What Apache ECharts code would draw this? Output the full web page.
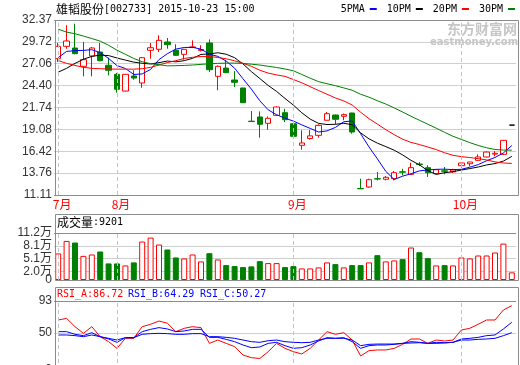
<!DOCTYPE html>
<html><head><meta charset="utf-8">
<script src="https://cdn.jsdelivr.net/npm/echarts@6.0.0/dist/echarts.min.js"></script>
<style>html,body{margin:0;padding:0;background:#fff}#c{width:520px;height:365px}</style>
</head><body><div id="c"></div>
<script>
const dates = ['07-23','07-24','07-27','07-28','07-29','07-30','07-31',
 '08-03','08-04','08-05','08-06','08-07','08-10','08-11','08-12','08-13','08-14','08-17','08-18','08-19','08-20','08-21','08-24','08-25','08-26','08-27','08-28','08-31',
 '09-01','09-02','09-07','09-08','09-09','09-10','09-11','09-14','09-15','09-16','09-17','09-18','09-21','09-22','09-23','09-24','09-25','09-28','09-29','09-30',
 '10-08','10-09','10-12','10-13','10-14','10-15','10-23'];
const open = [27.67,29.17,28.97,26.74,28.00,28.48,26.87,25.77,23.74,25.57,
 24.72,28.69,28.81,29.70,28.69,28.20,29.03,28.68,29.58,25.53,
 26.53,25.08,24.11,20.08,20.59,19.82,20.79,21.11,19.77,17.15,
 17.97,18.36,20.19,20.83,20.67,21.07,11.90,12.08,13.09,13.02,
 13.09,13.93,13.62,14.87,14.43,13.70,14.05,13.92,14.67,14.91,
 15.32,15.73,16.08,16.05,19.60];
const close = [29.17,29.82,28.28,27.55,28.97,27.43,26.26,23.95,25.77,25.32,
 27.79,29.00,29.90,29.37,28.08,28.81,29.10,28.78,26.33,26.74,
 25.97,24.80,22.32,20.03,19.70,20.43,21.80,20.26,18.24,17.43,
 18.29,19.57,20.99,20.31,20.87,18.76,11.86,12.97,13.05,13.26,
 13.82,13.88,14.43,14.82,13.82,14.18,13.99,14.15,15.00,15.12,
 15.73,16.33,16.18,17.75,19.60];
const low = [27.27,28.88,28.20,25.53,25.53,27.35,25.65,23.54,23.70,25.12,
 24.14,27.67,28.48,28.88,28.00,27.55,29.00,28.55,26.05,23.83,
 25.95,24.23,22.30,20.00,18.07,19.04,20.70,19.98,18.20,16.61,
 17.85,18.07,20.18,19.70,20.19,18.56,11.86,12.00,12.89,12.89,
 12.89,13.50,13.55,14.63,13.30,13.65,13.62,13.80,14.43,14.59,
 15.24,15.68,15.81,16.00,19.60];
const high = [29.58,31.73,31.92,29.70,29.09,29.60,27.80,25.93,25.80,26.26,
 27.87,29.58,30.51,30.18,29.42,28.85,29.90,29.30,30.02,26.85,
 27.47,26.17,24.15,21.31,21.28,20.65,21.85,21.59,19.80,18.97,
 19.00,19.69,21.19,20.87,21.00,21.10,13.09,13.09,13.90,13.42,
 14.02,14.30,15.03,15.12,14.72,14.22,14.51,14.30,15.02,15.14,
 16.05,16.40,16.45,17.78,19.60];
const ma5 = [27.80,28.55,28.65,28.68,28.76,28.41,27.70,26.83,26.48,25.75,
 25.82,26.37,27.56,28.28,28.83,29.03,29.05,28.83,28.22,27.95,
 27.38,26.52,25.23,23.97,22.56,21.46,20.86,20.44,20.09,19.63,
 19.20,18.76,18.90,19.32,20.01,20.10,18.56,16.95,15.50,13.98,
 12.99,13.40,13.69,14.04,14.15,14.23,14.25,14.19,14.23,14.49,
 14.80,15.27,15.67,16.22,17.12];
const ma10 = [26.03,26.50,27.10,27.60,27.95,28.10,28.05,27.75,27.50,27.25,
 27.11,27.03,27.19,27.38,27.29,27.43,27.71,28.19,28.25,28.39,
 28.21,27.79,27.03,26.10,25.26,24.42,23.69,22.84,22.03,21.10,
 20.33,19.81,19.67,19.70,19.82,19.65,18.66,17.93,17.41,16.99,
 16.55,15.98,15.32,14.77,14.07,13.61,13.82,13.94,14.14,14.32,
 14.51,14.76,14.93,15.23,15.80];
const ma20 = [27.45,27.10,26.85,26.62,26.50,26.45,26.42,26.40,26.40,26.40,
 26.45,26.62,26.90,27.20,27.43,27.70,27.84,27.93,27.93,27.82,
 27.66,27.41,27.11,26.74,26.27,25.92,25.70,25.52,25.14,24.74,
 24.27,23.80,23.35,22.90,22.54,22.04,21.17,20.38,19.72,19.05,
 18.44,17.89,17.50,17.24,16.94,16.63,16.24,15.93,15.77,15.66,
 15.53,15.37,15.13,15.00,14.94];
const ma30 = [31.25,30.90,30.70,30.42,30.12,29.80,29.30,28.70,28.20,27.70,
 27.30,27.06,26.94,26.80,26.82,26.85,26.90,26.98,27.05,27.10,
 27.13,27.13,27.10,27.00,26.90,26.75,26.60,26.42,26.20,25.75,
 25.30,24.88,24.63,24.39,24.12,23.83,23.35,22.99,22.56,22.16,
 21.69,21.19,20.68,20.19,19.71,19.23,18.72,18.24,17.86,17.47,
 17.13,16.85,16.64,16.57,16.56];
const volume = [6.32,9.31,8.93,5.75,6.08,6.79,3.95,3.95,3.47,4.19,
 9.16,10.11,8.45,7.27,5.37,5.14,6.08,4.43,6.39,4.90,
 3.55,3.32,3.08,3.24,4.50,4.03,4.03,3.08,3.32,2.76,
 2.76,3.00,4.19,3.79,3.00,3.55,3.55,4.19,5.92,4.43,
 4.66,4.97,7.74,6.63,5.21,3.47,3.55,3.47,5.37,5.14,
 5.84,5.84,6.55,8.68,1.82];
const rsiA = [67.4,69.6,58.4,49.4,58.4,44.9,38.2,29.2,42.7,42.7,
 58.4,61.6,66.0,63.0,51.7,56.2,58.4,57.1,35.9,40.4,
 35.9,31.5,20.2,16.6,15.5,24.7,35.9,29.2,24.7,21.6,
 29.2,40.4,51.7,48.1,50.3,40.4,18.9,26.1,27.0,27.0,
 29.2,34.6,41.8,41.8,35.9,40.4,39.1,40.4,53.9,56.2,
 61.6,67.4,67.4,80.9,86.72];
const rsiB = [51.7,51.7,48.1,46.3,50.3,44.9,41.8,37.3,43.6,43.6,
 51.7,54.8,57.1,55.3,51.7,52.6,54.8,54.8,44.0,44.0,
 41.3,38.2,33.7,30.1,31.0,35.9,37.3,32.8,29.2,30.1,
 33.7,39.1,43.6,42.7,43.6,38.2,29.2,32.8,33.7,33.7,
 34.6,35.9,38.2,37.3,35.9,37.3,36.8,37.3,41.8,42.7,
 44.0,46.3,47.2,55.3,64.29];
const rsiC = [47.2,47.2,46.3,44.9,47.2,44.9,42.7,40.4,43.6,43.6,
 48.1,49.0,49.4,49.0,48.1,48.1,49.0,49.0,44.9,44.9,
 44.0,42.7,40.4,38.2,37.3,39.5,40.4,38.2,37.3,36.8,
 37.3,40.4,42.7,42.7,42.7,40.4,32.8,34.6,35.0,35.0,
 35.0,35.9,36.4,36.8,35.9,35.9,36.4,37.3,40.4,40.4,
 41.3,41.8,42.7,46.3,50.27];
const priceTicks = [11.11,13.76,16.42,19.08,21.74,24.40,27.06,29.72,32.37];
const volumeTicks = [0,2.0,5.1,8.1,11.2];
const rsiTicks = [0,50,93];
const volumeHeader = 9201;
const stockTitle = '雄韬股份';
const stockCode = '[002733] 2015-10-23 15:00';

const RED = '#ff0000', GREEN = '#008000', BLUE = '#0000ff', BLACK = '#000000';
const FRAME = '#8c8c8c', GRID = '#cfcfcf';
const numFont = 'Liberation Sans, Noto Sans CJK SC, sans-serif';
const monoFont = 'DejaVu Sans Mono, monospace';
const cjkFont = 'Noto Sans CJK SC, sans-serif';

const monthStarts = dates.filter((d, i) => i === 0 || d.slice(0, 2) !== dates[i - 1].slice(0, 2));
const isMonthStart = (i) => i === 0 || dates[i].slice(0, 2) !== dates[i - 1].slice(0, 2);
const monthLine = {
  symbol: 'none', silent: true, animation: false,
  label: { show: false },
  lineStyle: { type: [4, 3], color: '#c4c4c4', width: 1 },
  emphasis: { disabled: true },
  data: monthStarts.map(d => ({ xAxis: d }))
};

const candleData = dates.map((d, i) => [open[i], close[i], low[i], high[i]]);
const volData = volume.map((v, i) => {
  const up = close[i] >= open[i];
  return { value: v, itemStyle: up ? { color: '#ffffff', borderColor: RED, borderWidth: 1 } : { color: GREEN, borderColor: GREEN, borderWidth: 1 } };
});

const gridL = 54, gridR = 4;
const sideLabel = { color: '#333', fontFamily: numFont, fontSize: 12, margin: 2, hideOverlap: false, showMinLabel: true, showMaxLabel: true };
function xAx(idx, showLabel) {
  return {
    type: 'category', gridIndex: idx, data: dates, boundaryGap: true,
    axisLine: { show: false }, axisTick: { show: false }, splitLine: { show: false },
    axisLabel: showLabel ? {
      show: true, interval: (i) => isMonthStart(i), color: RED, fontFamily: cjkFont, fontSize: 12, margin: 3,
      formatter: (v) => '{m|' + parseInt(v.slice(0, 2), 10) + '月}',
      rich: { m: { color: RED, fontFamily: cjkFont, fontSize: 12, padding: [0, 0, 0, 8] } }
    } : { show: false }
  };
}
function lineColors(ticks) { const lo = ticks[0], hi = ticks[ticks.length - 1]; return ticks.map(v => (v === lo || v === hi) ? FRAME : GRID); }
const volMin = volumeTicks[0], volMax = volumeTicks[volumeTicks.length - 1];
const volUpperTicks = volumeTicks.filter(v => v !== volMin);
const volFmt = (v) => v === 0 ? '0' : v.toFixed(1) + '万';

const option = {
  animation: false,
  backgroundColor: '#ffffff',
  grid: [
    { left: gridL, right: gridR, top: 20, height: 175, outerBoundsMode: 'none', containLabel: false },
    { left: gridL, right: gridR, top: 233, height: 47, outerBoundsMode: 'none', containLabel: false },
    { left: gridL, right: gridR, top: 301, height: 69, outerBoundsMode: 'none', containLabel: false }
  ],
  legend: {
    data: ['5PMA', '10PM', '20PM', '30PM'], right: 5, top: 4, align: 'right', padding: 0,
    itemGap: 10, itemWidth: 7, itemHeight: 2, icon: 'rect', selectedMode: false,
    textStyle: { fontFamily: monoFont, fontSize: 10, color: '#000' }
  },
  xAxis: [xAx(0, true), xAx(1, false), xAx(2, false)],
  yAxis: [
    { type: 'value', gridIndex: 0, position: 'left', min: priceTicks[0], max: priceTicks[priceTicks.length - 1], scale: true,
      axisLine: { show: false }, axisTick: { show: false, customValues: priceTicks },
      axisLabel: Object.assign({ customValues: priceTicks, formatter: (v) => v.toFixed(2) }, sideLabel),
      splitLine: { show: true, lineStyle: { color: lineColors(priceTicks), width: 1 } } },
    { type: 'value', gridIndex: 1, position: 'left', min: volMin, max: volMax,
      axisLine: { show: false }, axisTick: { show: false, customValues: volUpperTicks },
      axisLabel: Object.assign({ customValues: volUpperTicks, formatter: volFmt }, sideLabel),
      splitLine: { show: true, lineStyle: { color: volUpperTicks.map(v => v === volMax ? FRAME : GRID), width: 1 } } },
    { type: 'value', gridIndex: 2, position: 'left', min: rsiTicks[0], max: rsiTicks[rsiTicks.length - 1],
      axisLine: { show: false }, axisTick: { show: false, customValues: rsiTicks },
      axisLabel: Object.assign({ customValues: rsiTicks, formatter: (v) => String(v) }, sideLabel),
      splitLine: { show: true, lineStyle: { color: lineColors(rsiTicks), width: 1 } } },
    { type: 'value', gridIndex: 1, position: 'left', offset: 0, min: volMin, max: volMax,
      axisLine: { show: false }, axisTick: { show: false, customValues: [volMin] },
      axisLabel: Object.assign({ customValues: [volMin], formatter: volFmt }, sideLabel),
      splitLine: { show: false } }
  ],
  series: [
    { type: 'candlestick', name: 'K', xAxisIndex: 0, yAxisIndex: 0, data: candleData, barWidth: 6,
      itemStyle: { color: '#ffffff', color0: GREEN, borderColor: RED, borderColor0: GREEN, borderColorDoji: BLACK, borderWidth: 1 },
      markLine: monthLine },
    { type: 'line', name: '5PMA', data: ma5, xAxisIndex: 0, yAxisIndex: 0, showSymbol: false, color: BLUE, lineStyle: { width: 1, color: BLUE } },
    { type: 'line', name: '10PM', data: ma10, xAxisIndex: 0, yAxisIndex: 0, showSymbol: false, color: BLACK, lineStyle: { width: 1, color: BLACK } },
    { type: 'line', name: '20PM', data: ma20, xAxisIndex: 0, yAxisIndex: 0, showSymbol: false, color: RED, lineStyle: { width: 1, color: RED } },
    { type: 'line', name: '30PM', data: ma30, xAxisIndex: 0, yAxisIndex: 0, showSymbol: false, color: GREEN, lineStyle: { width: 1, color: GREEN } },
    { type: 'bar', name: 'VOL', data: volData, xAxisIndex: 1, yAxisIndex: 1, barWidth: 6, markLine: monthLine },
    { type: 'line', name: 'RSI_A', data: rsiA, xAxisIndex: 2, yAxisIndex: 2, showSymbol: false, lineStyle: { width: 1, color: RED }, markLine: monthLine },
    { type: 'line', name: 'RSI_B', data: rsiB, xAxisIndex: 2, yAxisIndex: 2, showSymbol: false, lineStyle: { width: 1, color: BLUE } },
    { type: 'line', name: 'RSI_C', data: rsiC, xAxisIndex: 2, yAxisIndex: 2, showSymbol: false, lineStyle: { width: 1, color: BLUE } }
  ],
  graphic: [
    { type: 'rect', silent: true, z: 100, shape: { x: 55.5, y: 20.5, width: 463, height: 175 }, style: { fill: 'none', stroke: FRAME, lineWidth: 1 } },
    { type: 'rect', silent: true, z: 100, shape: { x: 55.5, y: 214.5, width: 463, height: 66 }, style: { fill: 'none', stroke: FRAME, lineWidth: 1 } },
    { type: 'rect', silent: true, z: 100, shape: { x: 55.5, y: 287.5, width: 463, height: 90 }, style: { fill: 'none', stroke: FRAME, lineWidth: 1 } },
    { type: 'text', silent: true, left: 56, top: 3, style: {
        text: '{c|' + stockTitle + '}{a|' + stockCode + '}',
        rich: { c: { fontFamily: cjkFont, fontSize: 12, fill: '#000' }, a: { fontFamily: monoFont, fontSize: 10, fill: '#000' } } } },
    { type: 'text', silent: true, left: 57, top: 216, style: {
        text: '{c|成交量}{a|:' + volumeHeader + '}',
        rich: { c: { fontFamily: cjkFont, fontSize: 12, fill: '#000' }, a: { fontFamily: monoFont, fontSize: 10, fill: '#000' } } } },
    { type: 'text', silent: true, left: 57, top: 289, style: { text: 'RSI_A:' + rsiA[rsiA.length - 1].toFixed(2), fontFamily: monoFont, fontSize: 10, fill: RED } },
    { type: 'text', silent: true, left: 128, top: 289, style: { text: 'RSI_B:' + rsiB[rsiB.length - 1].toFixed(2), fontFamily: monoFont, fontSize: 10, fill: BLUE } },
    { type: 'text', silent: true, left: 200, top: 289, style: { text: 'RSI_C:' + rsiC[rsiC.length - 1].toFixed(2), fontFamily: monoFont, fontSize: 10, fill: BLUE } },
    { type: 'text', silent: true, left: 447, top: 22, z: 1, style: { text: '东方财富网', fontFamily: cjkFont, fontSize: 14, fontWeight: 'bold', fill: '#c6c6c6' } },
    { type: 'text', silent: true, left: 430, top: 37, z: 1, style: { text: 'eastmoney.com', fontFamily: 'DejaVu Sans, sans-serif', fontSize: 10, fontWeight: 'bold', fill: '#c6c6c6' } }
  ]
};
const chart = echarts.init(document.getElementById('c'), null, { renderer: 'canvas', width: 520, height: 365 });
chart.setOption(option);
</script></body></html>
